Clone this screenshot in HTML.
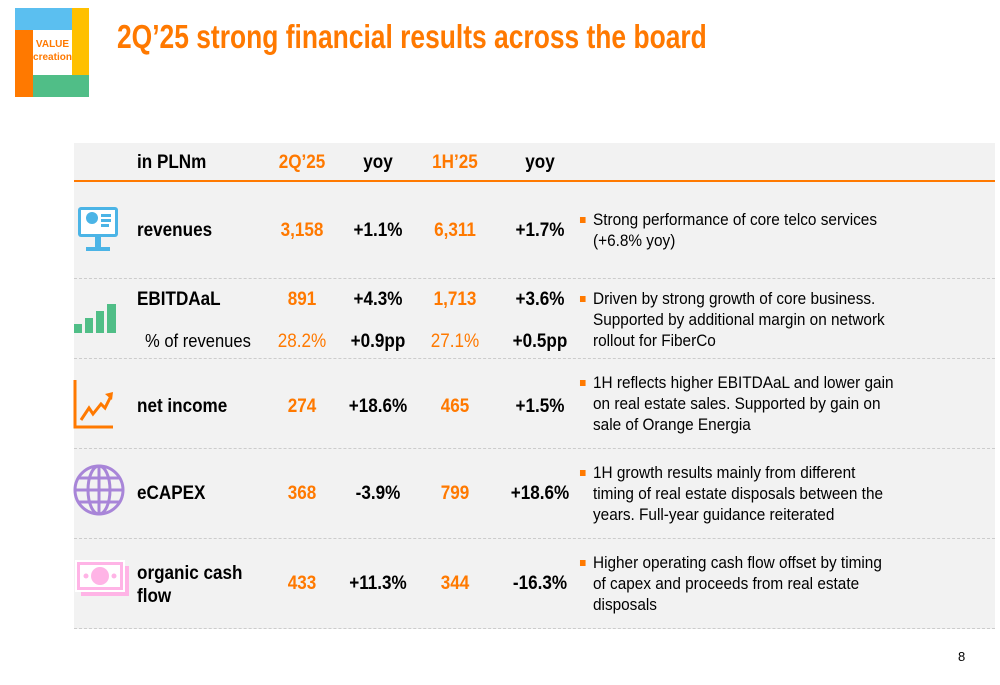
<!DOCTYPE html>
<html><head><meta charset="utf-8"><style>
body{margin:0;width:1000px;height:685px;background:#fff;position:relative;overflow:hidden;font-family:"Liberation Sans",Arial,sans-serif;}
.a{position:absolute;white-space:nowrap;}
.t{font-weight:bold;font-size:19px;color:#000;transform:scaleX(0.9);transform-origin:left center;}
.n{font-weight:bold;font-size:19px;text-align:center;width:90px;margin-left:-45px;transform:scaleX(0.9);}
.o{color:#ff7900;}
.c{font-size:16.5px;color:#000;line-height:21px;transform:scaleX(0.93);transform-origin:left top;}
.c:before{content:"";position:absolute;left:-14px;top:7px;width:6px;height:6px;background:#ff7900;}
.sep{position:absolute;left:74px;width:921px;border-top:1px dashed #ccc;}
</style></head><body>
<div class="a" style="left:15px;top:8px;width:74px;height:89px;">
 <div class="a" style="left:0;top:0;width:57px;height:22px;background:#5bbff0"></div>
 <div class="a" style="left:57px;top:0;width:17px;height:67px;background:#ffc000"></div>
 <div class="a" style="left:0;top:22px;width:18px;height:67px;background:#ff7900"></div>
 <div class="a" style="left:18px;top:67px;width:56px;height:22px;background:#50be87"></div>
 <div class="a" style="left:18px;top:30px;font-size:10px;font-weight:bold;color:#ff7900;text-align:center;width:39px;line-height:13px">VALUE<br>creation</div>
</div>
<div class="a" style="left:117px;top:18px;font-size:33px;font-weight:bold;color:#ff7900;transform:scaleX(0.8);transform-origin:left top;">2Q’25 strong financial results across the board</div>
<div class="a" style="left:74px;top:143px;width:921px;height:486px;background:#f2f2f2"></div>
<div class="a" style="left:74px;top:180px;width:921px;height:2px;background:#ff7900"></div>
<div class="sep" style="top:278px"></div><div class="sep" style="top:358px"></div><div class="sep" style="top:448px"></div><div class="sep" style="top:538px"></div><div class="sep" style="top:628px"></div>

<div class="a t" style="left:137px;top:152px">in PLNm</div>
<div class="a n o" style="left:302px;top:152px">2Q’25</div>
<div class="a n" style="left:378px;top:152px">yoy</div>
<div class="a n o" style="left:455px;top:152px">1H’25</div>
<div class="a n" style="left:540px;top:152px">yoy</div>

<!-- icons -->
<svg class="a" style="left:75px;top:205px" width="46" height="50"><rect x="3" y="2" width="40" height="30" rx="3" fill="#4bb4e6"/><rect x="6" y="5" width="34" height="24" fill="#fff"/><circle cx="17" cy="13" r="6" fill="#4bb4e6"/><rect x="26" y="9" width="10" height="3" fill="#4bb4e6"/><rect x="26" y="14" width="10" height="3" fill="#4bb4e6"/><rect x="26" y="19" width="8" height="3" fill="#4bb4e6"/><rect x="20" y="32" width="6" height="10" fill="#4bb4e6"/><rect x="11" y="42" width="24" height="4" fill="#4bb4e6"/></svg>
<svg class="a" style="left:73px;top:302px" width="46" height="32"><rect x="1" y="22" width="8" height="9" fill="#50be87"/><rect x="12" y="16" width="8" height="15" fill="#50be87"/><rect x="23" y="9" width="8" height="22" fill="#50be87"/><rect x="34" y="2" width="9" height="29" fill="#50be87"/></svg>
<svg class="a" style="left:73px;top:380px" width="44" height="50"><path d="M2 0V47H40" stroke="#ff7900" stroke-width="3" fill="none"/><path d="M8 40L16 28L20 34L28 24L32 28L38 16" stroke="#ff7900" stroke-width="3" fill="none"/><path d="M32 14L40 12L39 20Z" fill="#ff7900"/></svg>
<svg class="a" style="left:73px;top:460px" width="54" height="60"><g stroke="#a885d8" stroke-width="3" fill="none"><circle cx="26" cy="30" r="24"/><ellipse cx="26" cy="30" rx="11" ry="24"/><line x1="26" y1="6" x2="26" y2="54"/><line x1="2" y1="30" x2="50" y2="30"/><line x1="6" y1="18" x2="46" y2="18"/><line x1="6" y1="42" x2="46" y2="42"/></g></svg>
<svg class="a" style="left:75px;top:560px" width="56" height="40"><rect x="6" y="6" width="48" height="30" fill="#ffb4e6"/><rect x="1" y="1" width="48" height="30" fill="#ffb4e6" stroke="#fff" stroke-width="2"/><rect x="5" y="5" width="40" height="22" fill="#fff"/><circle cx="25" cy="16" r="9" fill="#ffb4e6"/><circle cx="11" cy="16" r="2.5" fill="#ffb4e6"/><circle cx="39" cy="16" r="2.5" fill="#ffb4e6"/></svg>

<!-- rows -->
<div class="a t" style="left:137px;top:220px">revenues</div>
<div class="a n o" style="left:302px;top:220px">3,158</div>
<div class="a n" style="left:378px;top:220px">+1.1%</div>
<div class="a n o" style="left:455px;top:220px">6,311</div>
<div class="a n" style="left:540px;top:220px">+1.7%</div>
<div class="a c" style="left:593px;top:210px">Strong performance of core telco services<br>(+6.8% yoy)</div>

<div class="a t" style="left:137px;top:289px">EBITDAaL</div>
<div class="a n o" style="left:302px;top:289px">891</div>
<div class="a n" style="left:378px;top:289px">+4.3%</div>
<div class="a n o" style="left:455px;top:289px">1,713</div>
<div class="a n" style="left:540px;top:289px">+3.6%</div>
<div class="a" style="left:145px;top:331px;font-size:18px;transform:scaleX(0.92);transform-origin:left">% of revenues</div>
<div class="a n o" style="left:302px;top:331px;font-weight:normal">28.2%</div>
<div class="a n" style="left:378px;top:331px">+0.9pp</div>
<div class="a n o" style="left:455px;top:331px;font-weight:normal">27.1%</div>
<div class="a n" style="left:540px;top:331px">+0.5pp</div>
<div class="a c" style="left:593px;top:289px">Driven by strong growth of core business.<br>Supported by additional margin on network<br>rollout for FiberCo</div>

<div class="a t" style="left:137px;top:396px">net income</div>
<div class="a n o" style="left:302px;top:396px">274</div>
<div class="a n" style="left:378px;top:396px">+18.6%</div>
<div class="a n o" style="left:455px;top:396px">465</div>
<div class="a n" style="left:540px;top:396px">+1.5%</div>
<div class="a c" style="left:593px;top:373px">1H reflects higher EBITDAaL and lower gain<br>on real estate sales. Supported by gain on<br>sale of Orange Energia</div>

<div class="a t" style="left:137px;top:483px">eCAPEX</div>
<div class="a n o" style="left:302px;top:483px">368</div>
<div class="a n" style="left:378px;top:483px">-3.9%</div>
<div class="a n o" style="left:455px;top:483px">799</div>
<div class="a n" style="left:540px;top:483px">+18.6%</div>
<div class="a c" style="left:593px;top:463px">1H growth results mainly from different<br>timing of real estate disposals between the<br>years. Full-year guidance reiterated</div>

<div class="a t" style="left:137px;top:562px;line-height:23px">organic cash<br>flow</div>
<div class="a n o" style="left:302px;top:573px">433</div>
<div class="a n" style="left:378px;top:573px">+11.3%</div>
<div class="a n o" style="left:455px;top:573px">344</div>
<div class="a n" style="left:540px;top:573px">-16.3%</div>
<div class="a c" style="left:593px;top:553px">Higher operating cash flow offset by timing<br>of capex and proceeds from real estate<br>disposals</div>

<div class="a" style="left:958px;top:649px;font-size:13px">8</div>
</body></html>
